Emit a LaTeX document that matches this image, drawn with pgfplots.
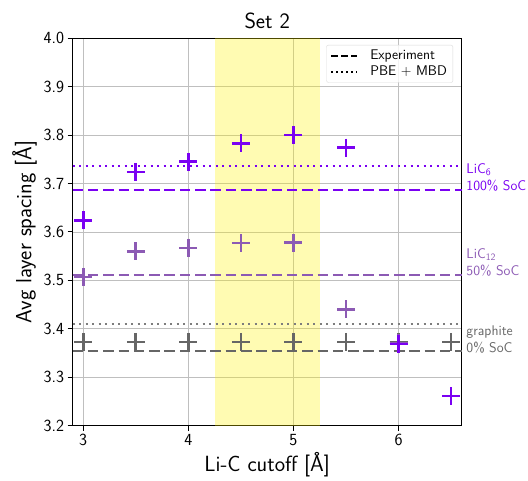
\documentclass[border=0pt]{standalone}
\usepackage{fontspec}
\usepackage{pgfplots}
\pgfplotsset{compat=1.18}
\definecolor{cSix}{HTML}{7A00F2}
\definecolor{cTwelve}{HTML}{8C5AB4}
\definecolor{cGr}{HTML}{666666}
\begin{document}
\begin{tikzpicture}
\begin{axis}[
  scale only axis, width=389pt, height=387.4pt,
  xmin=2.9, xmax=6.6, ymin=3.2, ymax=4.0,
  xtick={3,4,5,6}, ytick={3.2,3.3,3.4,3.5,3.6,3.7,3.8,3.9,4.0},
  yticklabel style={/pgf/number format/fixed,/pgf/number format/fixed zerofill,/pgf/number format/precision=1},
  /pgf/number format/assume math mode=true,
  ticklabel style={font=\sffamily\fontsize{17}{20}\selectfont},
  tick align=outside, tick pos=left,
  major tick length=5pt,
  every tick/.style={black, line width=1pt},
  axis line style={line width=1.2pt},
  grid=major, grid style={gray!50, line width=0.8pt},
  title={\sffamily\fontsize{22}{26}\selectfont Set 2},
  xlabel={\sffamily\fontsize{22}{26}\selectfont Li-C cutoff [Å]},
  ylabel={\sffamily\fontsize{22}{26}\selectfont Avg layer spacing [Å]},
  clip=false,
  legend style={at={(rel axis cs:0.978,0.983)}, anchor=north east, font=\sffamily\fontsize{14}{16}\selectfont,
    draw=gray!30, rounded corners=2pt, fill=white, fill opacity=0.8, text opacity=1, row sep=1pt, inner xsep=4pt, inner ysep=3pt},
  legend image code/.code={\draw[#1] (0pt,0pt) -- (26pt,0pt); \path (36pt,0pt);},
  legend cell align=left,
]
\addplot[draw=none, fill=yellow, fill opacity=0.3, forget plot] coordinates {(4.25,3.2) (5.25,3.2) (5.25,4.0) (4.25,4.0)} -- cycle;
\addlegendimage{black, line width=1.8pt, dash pattern=on 7pt off 3pt}
\addlegendentry{Experiment}
\addlegendimage{black, line width=1.8pt, dash pattern=on 2pt off 3pt}
\addlegendentry{PBE + MBD}
% reference lines
\addplot[cSix, line width=2pt, dash pattern=on 2pt off 4.5pt, forget plot] coordinates {(2.9,3.736) (6.6,3.736)};
\addplot[cSix, line width=2pt, dash pattern=on 10.5pt off 4.8pt, forget plot] coordinates {(2.9,3.686) (6.6,3.686)};
\addplot[cTwelve, line width=2pt, dash pattern=on 10.5pt off 4.8pt, forget plot] coordinates {(2.9,3.511) (6.6,3.511)};
\addplot[cGr!85!white, line width=2pt, dash pattern=on 2pt off 4.5pt, forget plot] coordinates {(2.9,3.410) (6.6,3.410)};
\addplot[cGr, line width=2pt, dash pattern=on 10.5pt off 4.8pt, forget plot] coordinates {(2.9,3.355) (6.6,3.355)};
% points
\addplot[cGr, only marks, mark=+, mark size=9pt, mark options={line width=2.6pt}, forget plot] coordinates {
(3,3.373) (3.5,3.373) (4,3.373) (4.5,3.373) (5,3.373) (5.5,3.373) (6,3.373) (6.5,3.373)};
\addplot[cTwelve, only marks, mark=+, mark size=9pt, mark options={line width=2.6pt}, forget plot] coordinates {
(3,3.507) (3.5,3.560) (4,3.567) (4.5,3.577) (5,3.578) (5.5,3.440) (6,3.370)};
\addplot[cSix, only marks, mark=+, mark size=9pt, mark options={line width=2.6pt}, forget plot] coordinates {
(3,3.624) (3.5,3.724) (4,3.745) (4.5,3.783) (5,3.800) (5.5,3.774) (6,3.369) (6.5,3.261)};
% right-hand labels
\node[anchor=west, align=left, text=cSix, font=\sffamily\fontsize{14}{17}\selectfont, inner sep=0pt, xshift=4.5pt] at (axis cs:6.6,3.713) {LiC\textsubscript{6}\\100\% SoC};
\node[anchor=west, align=left, text=cTwelve, font=\sffamily\fontsize{14}{17}\selectfont, inner sep=0pt, xshift=4.5pt] at (axis cs:6.6,3.538) {LiC\textsubscript{12}\\50\% SoC};
\node[anchor=west, align=left, text=cGr, font=\sffamily\fontsize{14}{17}\selectfont, inner sep=0pt, xshift=4.5pt] at (axis cs:6.6,3.377) {graphite\\0\% SoC};
\coordinate (bl) at (rel axis cs:0,0);
\coordinate (tr) at (rel axis cs:1,1);
\end{axis}
\pgfresetboundingbox
\path[use as bounding box] ([shift={(-72.7pt,-55.3pt)}]bl) rectangle ([shift={(66.3pt,38.3pt)}]tr);
\end{tikzpicture}
\end{document}
